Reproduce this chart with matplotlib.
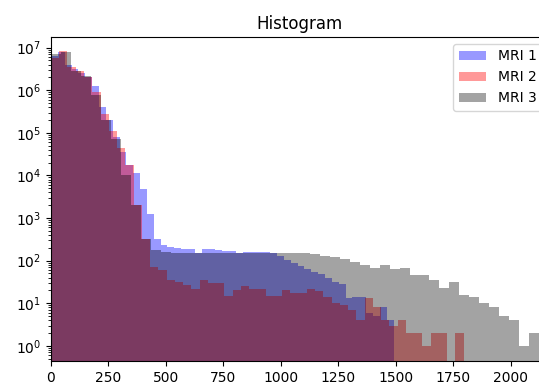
import numpy as np
import matplotlib
matplotlib.use("Agg")
import matplotlib.pyplot as plt

# bin counts per scan, 50 bins each over its own intensity range
mri1_range = (0, 1490)
mri1_counts = [6300000, 7900000, 4000000, 3200000, 2600000, 2100000, 1260000, 400000,
               200000, 79000, 35000, 17800, 11200, 4800, 1260, 316, 229, 214, 200, 190,
               186, 151, 186, 186, 182, 170, 166, 155, 158, 162, 162, 158, 155, 132, 105,
               89, 76, 63, 55, 48, 40, 32, 28, 13, 14, 14, 6, 5, 8, 4]

mri2_range = (0, 1795)
mri2_counts = [5600000, 8300000, 3500000, 2800000, 2000000, 890000, 280000, 112000,
               45000, 17800, 2000, 316, 72, 60, 35, 32, 27, 22, 35, 30, 30, 15, 20, 25,
               22, 22, 15, 15, 20, 17, 17, 22, 19, 14, 10, 9, 7, 4, 13, 8, 4, 3, 4, 2,
               2, 1, 2, 2, 0, 2]

mri3_range = (0, 2166)
mri3_counts = [7100000, 7900000, 2800000, 2200000, 790000, 200000, 71000, 10000, 2000,
               316, 178, 158, 151, 155, 148, 151, 148, 151, 148, 151, 151, 155, 155, 155,
               155, 151, 141, 129, 123, 110, 93, 79, 68, 79, 63, 66, 46, 46, 35, 23, 32,
               16, 14, 10, 8, 5, 4, 1, 2, 2]

xticks = [0, 250, 500, 750, 1000, 1250, 1500, 1750, 2000]
yticks = [1e0, 1e1, 1e2, 1e3, 1e4, 1e5, 1e6, 1e7]

fig = plt.figure(figsize=(5.39, 3.85), dpi=100)
ax = fig.add_axes([0.0946, 0.0623, 0.9239, 0.8416])

series = [
    (mri1_counts, mri1_range, "blue", 0.4, "MRI 1"),
    (mri2_counts, mri2_range, "red", 0.4, "MRI 2"),
    (mri3_counts, mri3_range, "black", 0.36, "MRI 3"),
]
for counts, rng, color, alpha, label in series:
    edges = np.linspace(rng[0], rng[1], len(counts) + 1)
    ax.hist(edges[:-1], bins=edges, weights=counts, color=color, alpha=alpha,
            log=True, label=label)

ax.set_yscale("log")
ax.set_yticks(yticks)
ax.set_ylim(0.44, 1.78e7)
ax.set_xlim(0, 2166)
ax.set_xticks(xticks)
ax.set_title("Histogram", fontsize=12)
ax.legend(loc="upper right")

fig.savefig("out.png", dpi=100)
